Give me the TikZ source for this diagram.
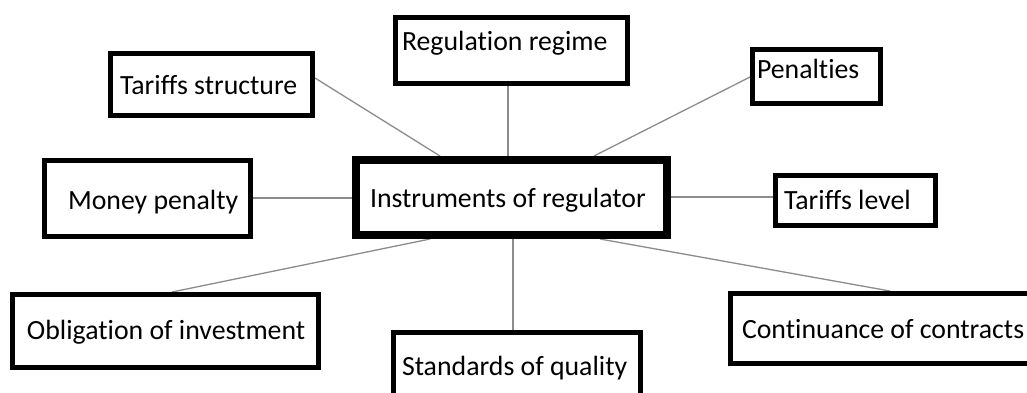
\documentclass[tikz,border=0pt]{standalone}
\usepackage{fontspec}
\setmainfont{Carlito}[Ligatures=CommonOff]
\usetikzlibrary{backgrounds}
\begin{document}
\begin{tikzpicture}[x=1pt,y=-1pt,
  box/.style={draw=black,line width=5pt,fill=white,inner sep=0pt,outer sep=2.5pt},
  hub/.style={box,line width=8pt,outer sep=4pt},
  txt/.style={anchor=base west,inner sep=0pt,outer sep=0pt,text=black,
    font=\fontsize{27.8}{33}\selectfont},
  link/.style={draw=black!45,line width=1.3pt}]
\useasboundingbox (0,0) rectangle (1027,392);

% boxes
\node[hub,minimum width=311pt,minimum height=75pt] (c)  at (511.5,197.5) {};
\node[box,minimum width=202pt,minimum height=62pt] (ts) at (211.5,84.5) {};
\node[box,minimum width=232pt,minimum height=66pt] (rr) at (511.5,50.5) {};
\node[box,minimum width=128pt,minimum height=54pt] (pen) at (816.5,76.5) {};
\node[box,minimum width=206pt,minimum height=76pt] (mp) at (147.5,198.5) {};
\node[box,minimum width=160pt,minimum height=50pt] (tl) at (855.5,200.5) {};
\node[box,minimum width=306pt,minimum height=73pt] (ob) at (165.5,331) {};
\node[box,minimum width=247pt,minimum height=65pt] (sq) at (517,365) {};
\node[box,minimum width=307pt,minimum height=70pt] (cc) at (884,328.5) {};

% labels
\node[txt] (tc)   at (370,207) {Instruments of regulator};
\node[txt] (tts)  at (120,94)  {Tariffs structure};
\node[txt] (trr)  at (402,50)  {Regulation regime};
\node[txt] (tpen) at (757,78)  {Penalties};
\node[txt] (tmp)  at (68,209)  {Money penalty};
\node[txt] (ttl)  at (784,209) {Tariffs level};
\node[txt] (tob)  at (27,339)  {Obligation of investment};
\node[txt] (tsq)  at (402,375) {Standards of quality};
\node[txt] (tcc)  at (742,338) {Continuance of contracts};

% connectors, behind the boxes
\begin{scope}[on background layer]
\fill[white] (0,0) rectangle (1027,392);
\draw[link] (ts.east |- 0,78) -- (c.north -| 440,0);
\draw[link] (rr.south -| 508,0) -- (c.north -| 508,0);
\draw[link] (pen.west |- 0,77) -- (c.north -| 594,0);
\draw[link] (mp.east |- 0,198) -- (c.west |- 0,198);
\draw[link] (c.east |- 0,197) -- (tl.west |- 0,197);
\draw[link] (c.south -| 430,0) -- (ob.north -| 172,0);
\draw[link] (c.south -| 513,0) -- (sq.north -| 513,0);
\draw[link] (c.south -| 600,0) -- (cc.north -| 890,0);
\end{scope}
\end{tikzpicture}
\end{document}
